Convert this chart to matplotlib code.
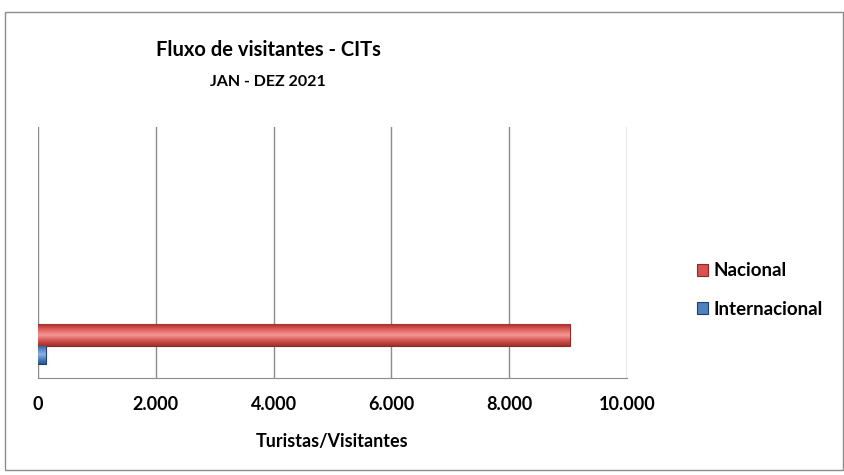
import numpy as np
import matplotlib.pyplot as plt
from matplotlib.patches import Rectangle
from matplotlib.colors import LinearSegmentedColormap
from matplotlib.ticker import FuncFormatter

# data
series = ['Internacional', 'Nacional']
values = [135, 9030]
colors = ['#4F81BD', '#D9524F']
edges = ['#1F3F6E', '#8C2A28']
shades = [['#2E5A93', '#5B8CCB', '#8DB3E2', '#4F7FBA', '#2B568C'],
          ['#A8302D', '#E0605D', '#F59896', '#D45451', '#A0302D']]
x_ticks = [0, 2000, 4000, 6000, 8000, 10000]

plt.rcParams['font.family'] = ['Lato', 'DejaVu Sans']
plt.rcParams['font.weight'] = 'bold'

fig = plt.figure(figsize=(8.45, 4.75), dpi=100)
W, H = 845, 475

# outer chart border
fig.patches.append(Rectangle((5 / W, 1 - 470 / H), 838 / W, 458 / H,
                             transform=fig.transFigure, fill=False,
                             edgecolor='#8C8C8C', linewidth=1.0))

ax = fig.add_axes([38 / W, 1 - 378 / H, 589 / W, 251 / H])

ypos = [0, 1.08]
heights = [0.95, 1.15]
grad = np.linspace(0, 1, 64).reshape(-1, 1)
for y, v, c, e, h, sh, name in zip(ypos, values, colors, edges, heights, shades, series):
    bars = ax.barh(y, v, height=h, color=c, edgecolor=e, linewidth=0.8,
                   label=name, zorder=3)
    cmap = LinearSegmentedColormap.from_list(name, sh)
    for b in bars:
        x0, y0 = b.get_x(), b.get_y()
        im = ax.imshow(grad, cmap=cmap, aspect='auto', origin='upper',
                       extent=[x0, x0 + b.get_width(), y0, y0 + b.get_height()],
                       zorder=3.5)
        im.set_clip_path(b)

ax.set_xlim(0, 10000)
ax.set_ylim(-1.2, 12)
ax.set_xticks(x_ticks)
ax.xaxis.set_major_formatter(FuncFormatter(lambda v, p: f'{int(v):,}'.replace(',', '.')))
ax.set_yticks([])
ax.grid(axis='x', color='#8C8C8C', linewidth=1.0, zorder=0)
ax.tick_params(axis='x', length=0, pad=13, labelsize=13)
for lbl in ax.get_xticklabels():
    lbl.set_fontweight('bold')
for s in ['top', 'right', 'left']:
    ax.spines[s].set_visible(False)
ax.spines['bottom'].set_color('#8C8C8C')

ax.set_xlabel('Turistas/Visitantes', fontsize=13, fontweight='bold', labelpad=14)

fig.text(268 / W, 1 - 50 / H, 'Fluxo de visitantes - CITs', ha='center', va='center',
         fontsize=14.5, fontweight='bold')
fig.text(268 / W, 1 - 82 / H, 'JAN - DEZ 2021', ha='center', va='center',
         fontsize=11.5, fontweight='bold')

handles, labels = ax.get_legend_handles_labels()
fig.legend(handles[::-1], labels[::-1], loc='center left',
           bbox_to_anchor=(680 / W, 1 - 290 / H), frameon=False,
           prop={'weight': 'bold', 'size': 13.5}, handlelength=0.6, handleheight=0.6,
           handletextpad=0.3, labelspacing=1.15)

fig.savefig('out.png', dpi=100)
